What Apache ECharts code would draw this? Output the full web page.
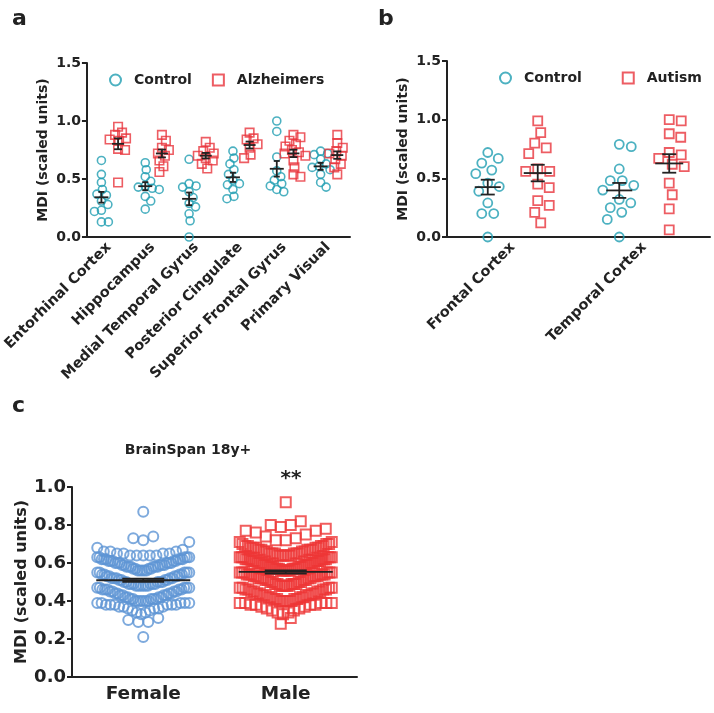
<!DOCTYPE html>
<html><head><meta charset="utf-8">
<script src="https://cdn.jsdelivr.net/npm/echarts@6/dist/echarts.min.js"></script>
<style>html,body{margin:0;padding:0;background:#fff}#c{width:714px;height:713px}</style>
</head><body><div id="c"></div>
<script>
// ---------- DATA ----------
const regionsA = ['Entorhinal Cortex','Hippocampus','Medial Temporal Gyrus','Posterior Cingulate','Superior Frontal Gyrus','Primary Visual'];
const controlA = [
  [0.66,0.54,0.47,0.41,0.37,0.36,0.31,0.28,0.23,0.22,0.13,0.13],
  [0.64,0.58,0.52,0.48,0.44,0.43,0.42,0.41,0.35,0.31,0.24],
  [0.67,0.46,0.44,0.43,0.39,0.34,0.29,0.26,0.20,0.14,0.00],
  [0.74,0.68,0.63,0.58,0.54,0.49,0.46,0.45,0.41,0.35,0.33],
  [1.00,0.91,0.69,0.57,0.52,0.49,0.46,0.44,0.41,0.39],
  [0.74,0.72,0.71,0.67,0.63,0.61,0.60,0.58,0.54,0.47,0.43]
];
const alzheimersA = [
  [0.95,0.90,0.88,0.85,0.84,0.83,0.76,0.75,0.47],
  [0.88,0.83,0.77,0.75,0.72,0.70,0.66,0.61,0.56],
  [0.82,0.77,0.74,0.72,0.70,0.68,0.66,0.63,0.59],
  [0.90,0.85,0.84,0.80,0.77,0.71,0.68],
  [0.88,0.86,0.83,0.80,0.78,0.75,0.73,0.72,0.70,0.66,0.60,0.54,0.52],
  [0.88,0.81,0.77,0.74,0.72,0.70,0.67,0.63,0.60,0.54]
];
const regionsB = ['Frontal Cortex','Temporal Cortex'];
const controlB = [
  [0.72,0.67,0.63,0.57,0.54,0.46,0.43,0.39,0.29,0.20,0.20,0.00],
  [0.79,0.77,0.58,0.48,0.48,0.44,0.40,0.32,0.29,0.25,0.21,0.15,0.00]
];
const autismB = [
  [0.99,0.89,0.80,0.76,0.71,0.58,0.56,0.56,0.45,0.42,0.31,0.27,0.21,0.12],
  [1.00,0.99,0.88,0.85,0.72,0.70,0.67,0.62,0.60,0.46,0.36,0.24,0.06]
];
const sexC = ['Female','Male'];
const femaleC = [0.87,
  0.74,0.73,0.72,0.71, 0.68,0.67,0.66,
  0.66,0.66,0.65,0.65,0.65,0.65,0.64,0.64,0.64,0.64,0.64,0.63,0.63,0.63,0.63,0.63,0.62,0.62,0.62,0.62,0.62,0.62,
  0.61,0.61,0.61,0.61,0.61,0.60,0.60,0.60,0.60,0.60,0.60,0.59,0.59,0.59,0.59,0.59,0.58,0.58,0.58,0.58,0.58,0.58,
  0.57,0.57,0.57,0.57,0.56,0.56,0.56,0.56,0.56,0.55,0.55,0.55,0.55,0.55,0.54,0.54,0.54,0.54,
  0.53,0.53,0.53,0.53,0.52,0.52,0.52,0.52,0.52,0.51,0.51,0.51,0.51,0.50,0.50,0.50,0.50,0.50,
  0.49,0.49,0.49,0.49,0.49,0.49,0.48,0.48,0.48,0.48,0.48,0.48,0.47,0.47,0.47,0.47,0.47,0.46,0.46,0.46,0.46,0.46,
  0.45,0.45,0.45,0.45,0.44,0.44,0.44,0.44,0.43,0.43,0.43,0.43,0.42,0.42,0.42,0.42,
  0.41,0.41,0.41,0.41,0.41,0.40,0.40,0.40,0.40,0.40,0.40,0.39,0.39,0.39,0.39,0.39,0.38,0.38,0.38,0.38,0.38,0.38,
  0.37,0.37,0.37,0.36,0.36,0.36,0.35,0.35,0.34,0.34,
  0.33,0.31,0.30,0.29,0.29,0.21];
const maleC = [0.92,
  0.82,0.80,0.80,0.79,0.78,0.77,0.77,0.76,
  0.75,0.74,0.73,0.72,0.72,0.71,0.71,0.70,
  0.70,0.70,0.69,0.69,0.69,0.69,0.68,0.68,0.68,0.68,0.68,0.67,0.67,0.67,0.67,0.67,0.66,0.66,0.66,0.66,
  0.65,0.65,0.65,0.65,0.65,0.65,0.64,0.64,0.64,0.64,0.64,0.64,0.63,0.63,0.63,0.63,0.63,0.63,0.62,0.62,0.62,0.62,0.62,0.62,
  0.61,0.61,0.61,0.61,0.61,0.61,0.60,0.60,0.60,0.60,0.60,0.60,0.59,0.59,0.59,0.59,0.59,0.59,0.58,0.58,0.58,0.58,0.58,0.58,
  0.57,0.57,0.57,0.57,0.57,0.57,0.56,0.56,0.56,0.56,0.56,0.56,0.55,0.55,0.55,0.55,0.55,0.55,0.54,0.54,0.54,0.54,0.54,0.54,
  0.53,0.53,0.53,0.53,0.53,0.52,0.52,0.52,0.52,0.52,0.51,0.51,0.51,0.51,0.50,0.50,0.50,0.50,
  0.49,0.49,0.49,0.49,0.49,0.48,0.48,0.48,0.48,0.48,0.47,0.47,0.47,0.47,0.46,0.46,0.46,0.46,
  0.45,0.45,0.45,0.45,0.44,0.44,0.44,0.44,0.43,0.43,0.43,0.43,0.42,0.42,0.42,0.42,
  0.41,0.41,0.41,0.41,0.40,0.40,0.40,0.40,0.40,0.39,0.39,0.39,0.39,0.39,0.38,0.38,0.38,0.38,
  0.37,0.37,0.36,0.36,0.35,0.35,0.34,0.34,
  0.33,0.31,0.28];

// ---------- STYLE / LAYOUT ----------
const TEAL = '#1f9db2', RED = '#e8353c', BLUE = '#5e95d4', RED2 = '#ee3636';
const FONT = 'DejaVu Sans, sans-serif';
const INK = '#222';
const G = [
  {left:86, top:63, width:264, height:174, ymax:1.5, n:6},
  {left:447, top:61, width:263, height:176, ymax:1.5, n:2},
  {left:72, top:487, width:285, height:190, ymax:1.0, n:2}
];

function mean(a){return a.reduce((s,v)=>s+v,0)/a.length;}
function sem(a){const m=mean(a);const v=a.reduce((s,x)=>s+(x-m)*(x-m),0)/(a.length-1);return Math.sqrt(v/a.length);}

// collision beeswarm (nearest free slot) -> pixel offsets
function swarmCollide(values, pxY, diam){
  const idx=values.map((v,i)=>i).sort((a,b)=>values[b]-values[a]);
  const placed=[], off=new Array(values.length);
  for(const i of idx){
    const y=values[i]*pxY; let best=0;
    for(let k=0;k<4000;k++){
      const c=(k%2===1?1:-1)*Math.ceil(k/2)*0.5;
      let ok=true;
      for(const p of placed){const dx=c-p.x,dy=y-p.y;if(dx*dx+dy*dy<diam*diam){ok=false;break;}}
      if(ok){best=c;break;}
    }
    placed.push({x:best,y}); off[i]=best;
  }
  return off;
}
// GraphPad-like rows: values binned by row height, spread centre-out (ascending)
function swarmRows(values, pxY, rowH, maxHalf, step){
  const bins={};
  values.forEach((v,i)=>{const b=Math.floor(v*pxY/rowH+1e-9);(bins[b]=bins[b]||[]).push(i);});
  const off=new Array(values.length).fill(0);
  for(const b in bins){
    const ids=bins[b].sort((a,c)=>values[a]-values[c]);
    const n=ids.length;
    const s=n>1?Math.min(step,2*maxHalf/(n-1)):0;
    const pos=[];
    for(let k=0;k<n;k++)pos.push((k-(n-1)/2)*s);
    pos.sort((a,c)=>(Math.abs(a)-Math.abs(c))||(a-c));
    ids.forEach((id,k)=>off[id]=pos[k]);
  }
  return off;
}
function points(groups, gi, shift, layout){
  const g=G[gi], pxY=g.height/g.ymax, pxX=g.width/g.n;
  const out=[];
  groups.forEach((vals,ci)=>{
    const off=layout(vals,pxY);
    vals.forEach((v,j)=>out.push([ci+shift+off[j]/pxX, v]));
  });
  return out;
}
function errSeries(groups, idx, gi, shift, meanHalf, capHalf, color, lw){
  const data=groups.map((a,i)=>{const m=mean(a),s=sem(a);return [idx[i]+shift,m,m-s,m+s];});
  return {type:'custom', xAxisIndex:gi*2+1, yAxisIndex:gi, z:10, silent:true,
    encode:{x:0,y:1}, data,
    renderItem(params, api){
      const x=api.value(0),m=api.value(1),lo=api.value(2),hi=api.value(3);
      const pm=api.coord([x,m]),pl=api.coord([x,lo]),ph=api.coord([x,hi]);
      const st={stroke:color,lineWidth:lw};
      return {type:'group',children:[
        {type:'line',shape:{x1:pm[0]-meanHalf,y1:pm[1],x2:pm[0]+meanHalf,y2:pm[1]},style:st},
        {type:'line',shape:{x1:pm[0],y1:pl[1],x2:pm[0],y2:ph[1]},style:st},
        {type:'line',shape:{x1:pm[0]-capHalf,y1:pl[1],x2:pm[0]+capHalf,y2:pl[1]},style:st},
        {type:'line',shape:{x1:pm[0]-capHalf,y1:ph[1],x2:pm[0]+capHalf,y2:ph[1]},style:st}
      ]};
    }};
}
function scatter(name, data, gi, symbol, size, color, bw){
  return {type:'scatter', name, data, xAxisIndex:gi*2+1, yAxisIndex:gi, symbol, symbolSize:size, z:5,
    itemStyle:{color:'rgba(255,255,255,0)', borderColor:color, borderWidth:bw}, silent:true};
}
function catAxis(gi, data, fs, rotate){
  return {type:'category', gridIndex:gi, data, boundaryGap:true,
    axisLine:{onZero:false,lineStyle:{color:INK,width:2}},
    axisTick:{alignWithLabel:true,length:6,lineStyle:{color:INK,width:2}},
    axisLabel:{rotate, interval:0, color:INK, fontSize:fs, fontWeight:'bold', fontFamily:FONT, margin:8}};
}
function valXAxis(gi){
  return {type:'value', gridIndex:gi, min:-0.5, max:G[gi].n-0.5, show:false};
}
function yAx(gi, interval, fs, nameFs, nameGap){
  return {type:'value', gridIndex:gi, min:0, max:G[gi].ymax, interval,
    name:'MDI (scaled units)', nameLocation:'middle', nameGap, nameRotate:90,
    nameTextStyle:{fontSize:nameFs, fontWeight:'bold', fontFamily:FONT, color:INK},
    axisLine:{show:true,onZero:false,lineStyle:{color:INK,width:2}},
    axisTick:{show:true,length:5,lineStyle:{color:INK,width:2}},
    splitLine:{show:false},
    axisLabel:{color:INK, fontSize:fs, fontWeight:'bold', fontFamily:FONT, margin:6,
      formatter:v=>v.toFixed(1)}};
}
const legText={fontSize:14,fontWeight:'bold',fontFamily:FONT,color:INK,padding:[0,0,0,8]};
const hollow=(c)=>({color:'rgba(255,255,255,0)',borderColor:c,borderWidth:2});
const layA=(v,py)=>swarmCollide(v,py,7);
const layB=(v,py)=>swarmCollide(v,py,12);
const layC=(v,py)=>swarmRows(v,py,15,46,10);

const option = {
  backgroundColor:'#fff',
  animation:false,
  grid: G.map(g=>({left:g.left, top:g.top, width:g.width, height:g.height, containLabel:false})),
  xAxis:[catAxis(0,regionsA,14.5,45), valXAxis(0), catAxis(1,regionsB,14.5,45), valXAxis(1), catAxis(2,sexC,18.5,0), valXAxis(2)],
  yAxis:[yAx(0,0.5,14,14,37), yAx(1,0.5,14,14,37), yAx(2,0.2,18,16,42)],
  title:[
    {text:'a', left:7, top:3, textStyle:{fontSize:22,fontWeight:'bold',fontFamily:FONT,color:INK}},
    {text:'b', left:373, top:3, textStyle:{fontSize:22,fontWeight:'bold',fontFamily:FONT,color:INK}},
    {text:'c', left:7, top:390, textStyle:{fontSize:22,fontWeight:'bold',fontFamily:FONT,color:INK}},
    {text:'BrainSpan 18y+', left:183, top:438, textAlign:'center', textStyle:{fontSize:14,fontWeight:'bold',fontFamily:FONT,color:INK}},
    {text:'**', left:286, top:464, textAlign:'center', textStyle:{fontSize:20,fontWeight:'bold',fontFamily:FONT,color:INK}}
  ],
  legend:[
    {left:104, top:68, itemWidth:11, itemHeight:11, itemGap:20, textStyle:legText,
      data:[{name:'Control',icon:'circle',itemStyle:hollow(TEAL)},{name:'Alzheimers',icon:'rect',itemStyle:hollow(RED)}]},
    {left:494, top:66, itemWidth:11, itemHeight:11, itemGap:35, textStyle:legText,
      data:[{name:'Control ',icon:'circle',itemStyle:hollow(TEAL)},{name:'Autism',icon:'rect',itemStyle:hollow(RED)}]}
  ],
  series:[
    scatter('Control', points(controlA,0,-0.17,layA), 0, 'circle', 8, TEAL, 1.6),
    scatter('Alzheimers', points(alzheimersA,0,0.21,layA), 0, 'rect', 8.5, RED, 1.6),
    errSeries(controlA,[0,1,2,3,4,5],0,-0.17,7,3,INK,1.8),
    errSeries(alzheimersA,[0,1,2,3,4,5],0,0.21,6,4,INK,1.8),
    scatter('Control ', points(controlB,1,-0.19,layB), 1, 'circle', 9, TEAL, 1.8),
    scatter('Autism', points(autismB,1,0.19,layB), 1, 'rect', 9, RED, 1.8),
    errSeries(controlB,[0,1],1,-0.19,13,7,INK,1.8),
    errSeries(autismB,[0,1],1,0.19,14,7,INK,1.8),
    scatter('Female', points([femaleC],2,0,layC), 2, 'circle', 10, BLUE, 2),
    scatter('Male', points([[],maleC],2,0,layC), 2, 'rect', 10, RED2, 2),
    errSeries([femaleC,maleC],[0,1],2,0,47,21,INK,1.8)
  ]
};
const chart = echarts.init(document.getElementById('c'), null, {renderer:'canvas'});
chart.setOption(option);
</script></body></html>
